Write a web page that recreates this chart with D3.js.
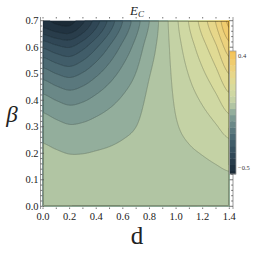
<!DOCTYPE html>
<html><head><meta charset="utf-8">
<script src="https://cdn.jsdelivr.net/npm/d3@7"></script>
<style>body{margin:0;background:#fff}svg{display:block}</style>
</head><body>
<svg id="c" width="266" height="255"></svg>
<script>
// ---- data ----
const dValues = [0,0.1,0.2,0.3,0.4,0.5,0.6,0.7,0.8,0.9,1.0,1.1,1.2,1.3,1.4];
const betaValues = [0,0.1,0.2,0.3,0.4,0.5,0.6,0.7];
// E_C on the grid, one row per beta value (beta = 0 first)
const ecRow0 = [0,0,0,0,0,0,0,0,0,0,0,0,0,0,0];
const ecRow1 = [-0.0022,-0.0034,-0.0048,-0.0050,-0.0046,-0.0041,-0.0034,-0.0025,-0.0002,-0.0001,0.0052,0.0070,0.0089,0.0120,0.016];
const ecRow2 = [-0.0153,-0.0208,-0.0260,-0.0256,-0.0224,-0.0192,-0.0152,-0.0107,-0.0017,-0.0002,0.0128,0.0199,0.0269,0.0368,0.050];
const ecRow3 = [-0.0476,-0.0597,-0.0698,-0.0662,-0.0570,-0.0472,-0.0364,-0.0250,-0.0059,-0.0006,0.0216,0.0365,0.0516,0.0710,0.098];
const ecRow4 = [-0.1064,-0.1260,-0.1404,-0.1302,-0.1104,-0.0895,-0.0676,-0.0457,-0.0140,-0.0010,0.0314,0.0562,0.0817,0.1131,0.157];
const ecRow5 = [-0.1988,-0.2251,-0.2414,-0.2199,-0.1845,-0.1469,-0.1091,-0.0730,-0.0273,-0.0015,0.0420,0.0785,0.1167,0.1623,0.226];
const ecRow6 = [-0.3311,-0.3616,-0.3761,-0.3376,-0.2806,-0.2201,-0.1615,-0.1071,-0.0472,-0.0022,0.0532,0.1032,0.1563,0.2181,0.305];
const ecRow7 = [-0.51,-0.54,-0.547,-0.485,-0.40,-0.31,-0.225,-0.148,-0.075,-0.003,0.065,0.13,0.20,0.28,0.393];
const ecGrid = [ecRow0,ecRow1,ecRow2,ecRow3,ecRow4,ecRow5,ecRow6,ecRow7];
const contourLevels = d3.range(20).map(k => +(-0.525 + 0.05*k).toFixed(3));
const xTickLabels = ["0.0","0.2","0.4","0.6","0.8","1.0","1.2","1.4"];
const yTickLabels = ["0.0","0.1","0.2","0.3","0.4","0.5","0.6","0.7"];
const barLabels = [0.4,-0.5];
const barRange = [-0.55,0.44];
// band colours (one per band, lowest first)
const bandColors = ["#1b2a36","#213341","#293d4b","#304756","#385260","#415d69","#4c6a73","#5a787d","#6a8887","#7c9a92","#93ae9c","#b1c5a3","#c4d2a5","#cfd8a3","#d8db9d","#e0da94","#e7d78a","#ecd27d","#f0cc6e","#f3c65e","#f5c050"];

// ---- drawing ----
const svg = d3.select("#c");
const serif = "'Liberation Serif','DejaVu Serif',serif";
const x = d3.scaleLinear().domain([0,1.4]).range([43,229.3]);
const y = d3.scaleLinear().domain([0,0.7]).range([206.3,20.7]);
const color = d3.scaleThreshold().domain(contourLevels).range(bandColors);

// smooth resampling of the grid (Catmull-Rom)
function cr(p0,p1,p2,p3,t){return 0.5*((2*p1)+(-p0+p2)*t+(2*p0-5*p1+4*p2-p3)*t*t+(-p0+3*p1-3*p2+p3)*t*t*t);}
const nC = dValues.length, nR = betaValues.length;
function g(r,c){r=Math.max(0,Math.min(nR-1,r));c=Math.max(0,Math.min(nC-1,c));return ecGrid[r][c];}
function field(d,b){
  const fc = (d-dValues[0])/(dValues[1]-dValues[0]);
  const fr = (b-betaValues[0])/(betaValues[1]-betaValues[0]);
  const c = Math.min(nC-2,Math.floor(fc)), r = Math.min(nR-2,Math.floor(fr));
  const tc = fc-c, tr = fr-r;
  const rows=[];
  for(let k=-1;k<=2;k++) rows.push(cr(g(r+k,c-1),g(r+k,c),g(r+k,c+1),g(r+k,c+2),tc));
  return cr(rows[0],rows[1],rows[2],rows[3],tr);
}
const nx = 372, ny = 372;
const vals = new Float64Array(nx*ny);
for(let j=0;j<ny;j++){
  const b = 0.7 - (j+0.5)/ny*0.7;
  for(let i=0;i<nx;i++){
    const d = (i+0.5)/nx*1.4;
    vals[j*nx+i] = field(d,b);
  }
}
const proj = d3.geoTransform({point:function(px,py){this.stream.point(x(px/nx*1.4), y(0.7-py/ny*0.7));}});
const path = d3.geoPath(proj);
const contours = d3.contours().size([nx,ny]).smooth(true).thresholds(contourLevels)(vals);

svg.append("rect").attr("x",x(0)).attr("y",y(0.7)).attr("width",x(1.4)-x(0)).attr("height",y(0)-y(0.7)).attr("fill",bandColors[0]);
svg.append("g").selectAll("path").data(contours).join("path")
  .attr("d",path).attr("fill",c=>color(c.value)).attr("stroke",c=>color(c.value)).attr("stroke-width",0.3);
svg.append("clipPath").attr("id","inner").append("rect")
  .attr("x",x(0)+0.8).attr("y",y(0.7)+0.8).attr("width",x(1.4)-x(0)-1.6).attr("height",y(0)-y(0.7)-1.6);
svg.append("g").attr("clip-path","url(#inner)").selectAll("path").data(contours).join("path")
  .attr("d",path).attr("fill","none").attr("stroke","rgba(30,40,40,0.4)").attr("stroke-width",0.6);

// frame
const fL=40.5, fR=233, fT=17, fB=209;
const frameColor="#999";
svg.append("line").attr("x1",fL).attr("x2",fL).attr("y1",fT).attr("y2",fB).attr("stroke",frameColor).attr("stroke-width",1);
svg.append("line").attr("x1",fR).attr("x2",fR).attr("y1",fT).attr("y2",fB).attr("stroke",frameColor).attr("stroke-width",1);
// ticks
const tk = svg.append("g").attr("stroke","#555").attr("stroke-width",0.8);
d3.range(0,1.401,0.1).forEach(v=>{
  tk.append("line").attr("x1",x(v)).attr("x2",x(v)).attr("y1",fT).attr("y2",fT+1.5);
  tk.append("line").attr("x1",x(v)).attr("x2",x(v)).attr("y1",fB-1.5).attr("y2",fB);
});
d3.range(0,0.7001,0.02).forEach((v,i)=>{
  const L = (i%5===0)?3.5:1.8;
  tk.append("line").attr("x1",fL).attr("x2",fL+L).attr("y1",y(v)).attr("y2",y(v));
  tk.append("line").attr("x1",fR-L).attr("x2",fR).attr("y1",y(v)).attr("y2",y(v));
});
// tick labels
svg.append("g").selectAll("text").data(xTickLabels).join("text")
  .attr("x",s=>x(+s)).attr("y",220).attr("text-anchor","middle")
  .attr("font-family",serif).attr("font-size",10.5).attr("fill","#222").text(s=>s);
svg.append("g").selectAll("text").data(yTickLabels).join("text")
  .attr("x",38.5).attr("y",s=>y(+s)+3.5).attr("text-anchor","end")
  .attr("font-family",serif).attr("font-size",10.5).attr("fill","#222").text(s=>s);

// colour bar
const cy = d3.scaleLinear().domain(barRange).range([174,51]);
const cbX=229.5, cbW=6.5;
const edges=[barRange[0],...contourLevels.filter(v=>v>barRange[0]&&v<barRange[1]),barRange[1]];
svg.append("g").selectAll("rect").data(d3.pairs(edges)).join("rect")
  .attr("x",cbX).attr("width",cbW).attr("y",p=>cy(p[1])).attr("height",p=>cy(p[0])-cy(p[1])+0.3)
  .attr("fill",p=>color((p[0]+p[1])/2));
svg.append("rect").attr("x",cbX).attr("y",cy(barRange[1])).attr("width",cbW).attr("height",cy(barRange[0])-cy(barRange[1]))
  .attr("fill","none").attr("stroke","#999").attr("stroke-width",0.8);
svg.append("g").selectAll("text").data(barLabels).join("text")
  .attr("x",cbX+cbW+2).attr("y",v=>cy(v)+2).attr("font-family",serif).attr("font-size",6.5).attr("fill","#333")
  .text(v=>(v<0?"\u2212":"")+Math.abs(v).toFixed(1));

// titles
const t = svg.append("text").attr("x",137).attr("y",15).attr("text-anchor","middle")
  .attr("font-family",serif).attr("font-style","italic").attr("font-size",13).attr("fill","#222");
t.append("tspan").text("E");
t.append("tspan").attr("font-size",9).attr("dy",2).text("C");
svg.append("text").attr("x",12).attr("y",122).attr("text-anchor","middle")
  .attr("font-family",serif).attr("font-style","italic").attr("font-size",23).attr("fill","#222").text("β");
svg.append("text").attr("x",137).attr("y",244).attr("text-anchor","middle")
  .attr("font-family",serif).attr("font-size",25).attr("fill","#222").text("d");
</script>
</body></html>
